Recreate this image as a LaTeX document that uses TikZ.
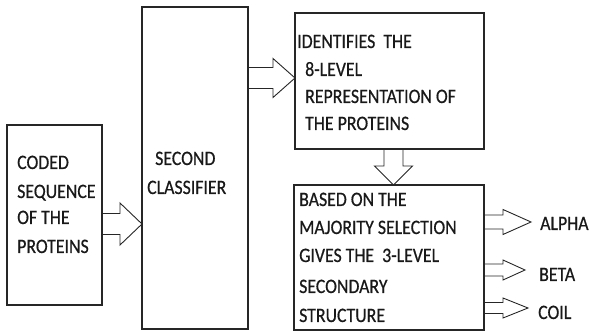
\documentclass[tikz,border=0pt]{standalone}
\usepackage{fontspec}
\setmainfont{Carlito}
\newfontfamily\diafont{Carlito}[BoldFont=Carlito, BoldFeatures={FakeBold=0.6}]
\usetikzlibrary{calc}
\tikzset{
  box/.style={draw=black!85, line width=1.2pt, inner sep=0pt, outer sep=0pt},
  txt/.style={font=\diafont\bfseries\fontsize{17.8}{20}\selectfont, inner sep=0pt, anchor=base west, text=black!90, yscale=1.15},
  barrow/.style={draw=black!85, line width=0.9pt, line join=miter}
}
% horizontal block arrow: #1 start point (box edge), #2 tip, #3 shaft half, #4 head half, #5 head length
\newcommand\rblockarrow[5]{%
  \draw[barrow] let \p1=(#1), \p2=(#2) in
    ({\x1},{\y2+#3}) -- ({\x2-#5},{\y2+#3}) -- ({\x2-#5},{\y2+#4}) -- (\p2)
    -- ({\x2-#5},{\y2-#4}) -- ({\x2-#5},{\y2-#3}) -- ({\x1},{\y2-#3});}
% vertical (downward) block arrow
\newcommand\dblockarrow[5]{%
  \draw[barrow] let \p1=(#1), \p2=(#2) in
    ({\x2-#3},{\y1}) -- ({\x2-#3},{\y2+#5}) -- ({\x2-#4},{\y2+#5}) -- (\p2)
    -- ({\x2+#4},{\y2+#5}) -- ({\x2+#3},{\y2+#5}) -- ({\x2+#3},{\y1});}
\begin{document}
\begin{tikzpicture}[x=1pt,y=-1pt]
\useasboundingbox[fill=white] (0,0) rectangle (590,331);
% boxes
\node[box, minimum width=95pt, minimum height=180pt] (b1) at (54.5,215) {};
\node[box, minimum width=106pt, minimum height=322pt] (b2) at (195,168) {};
\node[box, minimum width=189pt, minimum height=136pt] (b3) at (389.5,81) {};
\node[box, minimum width=190pt, minimum height=145pt] (b4) at (389,257.5) {};
% texts box 1
\node[txt] (c1) at (17,169) {CODED};
\node[txt] (c2) at (17,198) {SEQUENCE};
\node[txt] (c3) at (17,224) {OF THE};
\node[txt] (c4) at (17,253) {PROTEINS};
% box 2
\node[txt] (s1) at (155,165) {SECOND};
\node[txt] (s2) at (147,194) {CLASSIFIER};
% box 3
\node[txt] (i1) at (297,48) {IDENTIFIES\ \ THE};
\node[txt] (i2) at (305,76) {8-LEVEL};
\node[txt] (i3) at (305,103) {REPRESENTATION OF};
\node[txt] (i4) at (305,130) {THE PROTEINS};
% box 4
\node[txt] (m1) at (299,206) {BASED ON THE};
\node[txt] (m2) at (299,234) {MAJORITY SELECTION};
\node[txt] (m3) at (299,262) {GIVES THE\ \ 3-LEVEL};
\node[txt] (m4) at (299,293) {SECONDARY};
\node[txt] (m5) at (299,322) {STRUCTURE};
% outputs
\node[txt] (alpha) at (540,230) {ALPHA};
\node[txt] (beta) at (539,281) {BETA};
\node[txt] (coil) at (538,319) {COIL};
% tip coordinates
\coordinate (p1) at (b2.west |- 0,224);
\coordinate (p2) at (b3.west |- 0,78);
\coordinate (p3) at (393.5,0 |- b4.north);
\coordinate (q3) at (393.5,0 |- b3.south);
\coordinate (pa) at (531,222);
\coordinate (pb) at (525,270);
\coordinate (pc) at (528,308);
% arrows
\rblockarrow{b1.east}{p1}{10.5}{21}{22}
\rblockarrow{b2.east}{p2}{10.5}{19.5}{22}
\dblockarrow{q3}{p3}{9.5}{19}{19}
\rblockarrow{b4.east}{pa}{7}{12.5}{28}
\rblockarrow{b4.east}{pb}{6}{10}{22}
\rblockarrow{b4.east}{pc}{5.5}{10}{25}
\end{tikzpicture}
\end{document}
